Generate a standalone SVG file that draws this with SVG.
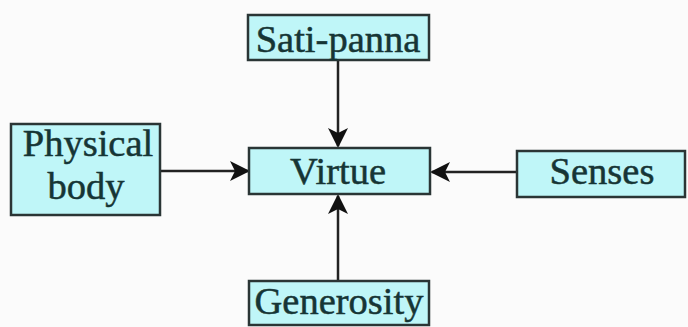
<svg xmlns="http://www.w3.org/2000/svg" width="688" height="327" viewBox="0 0 688 327">
<style>
.box{fill:#bff6f8;stroke:#2a3535;stroke-width:2.5}
.lbl{font-family:"Liberation Serif","Times New Roman",serif;font-size:38.5px;fill:#163535;stroke:#163535;stroke-width:0.5;text-anchor:middle}
.conn{stroke:#222;stroke-width:2.5;fill:none;marker-end:url(#ah)}
</style>
<defs>
<marker id="ah" viewBox="0 0 20 20" refX="18" refY="10" markerWidth="20" markerHeight="20" markerUnits="userSpaceOnUse" orient="auto">
<path d="M0,0 L20,10 L0,20 L5,10 Z" fill="#111"/>
</marker>
</defs>
<rect width="688" height="327" fill="#fbfbfb"/>
<g id="connectors">
<line class="conn" x1="338" y1="60" x2="338" y2="146"/>
<line class="conn" x1="160" y1="171" x2="248" y2="171"/>
<line class="conn" x1="517" y1="172" x2="432" y2="172"/>
<line class="conn" x1="338" y1="281" x2="338" y2="196"/>
</g>
<g id="sati-panna">
<rect class="box" x="248" y="15" width="181" height="45"/>
<text class="lbl" x="338" y="52">Sati-panna</text>
</g>
<g id="physical-body">
<rect class="box" x="11" y="124" width="149" height="91"/>
<text class="lbl" x="88" y="156">Physical</text>
<text class="lbl" x="86" y="199">body</text>
</g>
<g id="virtue">
<rect class="box" x="249" y="148" width="181" height="46"/>
<text class="lbl" x="338" y="184">Virtue</text>
</g>
<g id="senses">
<rect class="box" x="517" y="151" width="168" height="46"/>
<text class="lbl" x="602" y="184">Senses</text>
</g>
<g id="generosity">
<rect class="box" x="249" y="281" width="180" height="44"/>
<text class="lbl" x="339" y="314">Generosity</text>
</g>
</svg>
